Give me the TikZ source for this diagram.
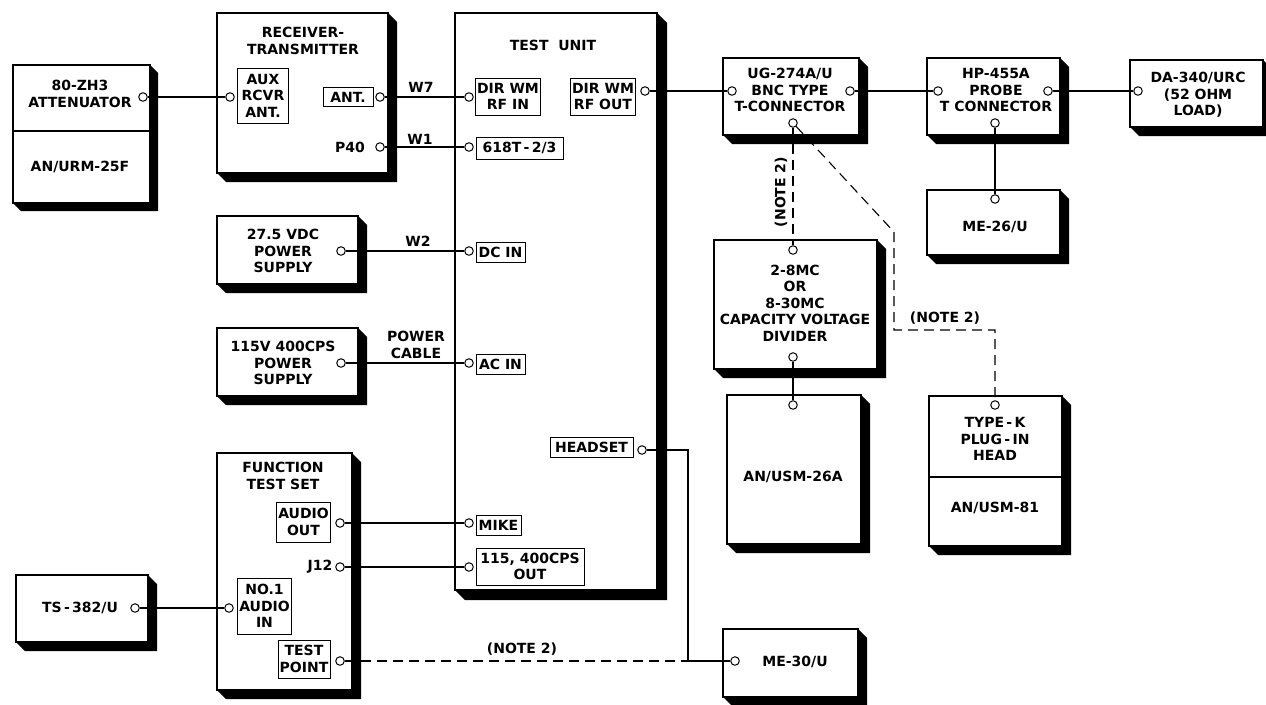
\documentclass[tikz,border=0pt]{standalone}
\usepackage{fontspec}
\setmainfont{DejaVu Sans}
\newcommand\unitbox[6]{%
  \fill (#2,#5) -- ({#2+#6},{#5+#6}) -- ({#4+#6},{#5+#6}) -- ({#4+#6},{#3+#6}) -- (#4,#3) -- cycle;
  \node[ubx, minimum width={(#4-#2)*1pt}, minimum height={(#5-#3)*1pt}] (#1) at ({(#2+#4)/2},{(#3+#5)/2}) {};
}
\begin{document}
\begin{tikzpicture}[x=1pt,y=-1pt,
  every node/.style={font=\fontsize{14}{16.5}\selectfont\bfseries},
  ubx/.style={draw, line width=1.4pt, fill=white, inner sep=0pt, outer sep=0pt},
  port/.style={circle, draw, fill=white, line width=1pt, inner sep=0pt, minimum size=8.5pt},
  plabel/.style={draw, line width=1pt, inner sep=1.5pt, align=center},
  txt/.style={align=center, inner sep=0pt},
  wire/.style={line width=1.1pt},
  note/.style={line width=1.1pt, dash pattern=on 10pt off 6pt},
]
\fill[white] (0,0) rectangle (1266,704);
\useasboundingbox (0,0) rectangle (1266,704);

% attenuator
\unitbox{att}{13}{65}{150}{203}{8}
\draw[line width=1.4pt] (13,131) -- (150,131);
\node[txt] (att-t) at (80,94) {80-ZH3\\ATTENUATOR};
\node[txt] (att-m) at (80,167) {AN/URM-25F};
\node[port] (att-o) at (143,97) {};

% receiver-transmitter
\unitbox{rt}{217}{13}{388}{173}{9}
\node[txt] (rt-t) at (303,41) {RECEIVER-\\TRANSMITTER};
\node[plabel, minimum width=51pt, minimum height=55pt] (aux) at (263,95.5) {AUX\\RCVR\\ANT.};
\node[port] (aux-o) at (230,97) {};
\node[plabel, minimum width=50pt, minimum height=19pt] (ant) at (348,97) {ANT.};
\node[port] (ant-o) at (380,97) {};
\node[txt] (p40) at (350,147) {P40};
\node[port] (p40-o) at (380,147) {};

% test unit
\unitbox{tu}{455}{13}{657}{590}{10}
\node[txt] (tu-t) at (553,45) {TEST\ \ UNIT};
\node[plabel, minimum width=64pt, minimum height=37pt] (rfin) at (508,96.5) {DIR WM\\RF IN};
\node[port] (rfin-o) at (469,97) {};
\node[plabel, minimum width=64pt, minimum height=37pt] (rfout) at (603,96.5) {DIR WM\\RF OUT};
\node[port] (rfout-o) at (645,91) {};
\node[plabel, minimum width=87pt, minimum height=22pt] (t618) at (519.5,148) {618T\,-\,2/3};
\node[port] (t618-o) at (469,147) {};
\node[plabel, minimum width=49pt, minimum height=20pt] (dcin) at (500.5,252) {DC IN};
\node[port] (dc-o) at (469,251) {};
\node[plabel, minimum width=49pt, minimum height=20pt] (acin) at (500.5,364) {AC IN};
\node[port] (ac-o) at (469,363) {};
\node[plabel, minimum width=83pt, minimum height=20pt] (hs) at (591.5,447.5) {HEADSET};
\node[port] (hs-o) at (642,450) {};
\node[plabel, minimum width=45pt, minimum height=20pt] (mike) at (498.5,525) {MIKE};
\node[port] (mike-o) at (469,523) {};
\node[plabel, minimum width=108pt, minimum height=37pt] (cps) at (530,566.5) {115, 400CPS\\OUT};
\node[port] (cps-o) at (469,567) {};

% power supplies
\unitbox{ps1}{217}{216}{358}{284}{9}
\node[txt] (ps1-t) at (283,251) {27.5 VDC\\POWER\\SUPPLY};
\node[port] (ps1-o) at (341,251) {};
\unitbox{ps2}{217}{328}{358}{396}{9}
\node[txt] (ps2-t) at (283,363) {115V 400CPS\\POWER\\SUPPLY};
\node[port] (ps2-o) at (341,363) {};

% function test set
\unitbox{fts}{217}{453}{352}{690}{9}
\node[txt] (fts-t) at (283,476) {FUNCTION\\TEST SET};
\node[plabel, minimum width=53pt, minimum height=40pt] (aout) at (303.5,522) {AUDIO\\OUT};
\node[port] (aout-o) at (340,523) {};
\node[txt] (j12) at (320,567) {J12};
\node[port] (j12-o) at (340,567) {};
\node[plabel, minimum width=53pt, minimum height=56pt] (ain) at (264.5,606) {NO.1\\AUDIO\\IN};
\node[port] (ain-o) at (229,608) {};
\node[plabel, minimum width=52pt, minimum height=38pt] (tp) at (304,659) {TEST\\POINT};
\node[port] (tp-o) at (340,661) {};

% TS-382/U
\unitbox{ts}{16}{575}{148}{642}{9}
\node[txt] (ts-t) at (80,608) {TS\,-\,382/U};
\node[port] (ts-o) at (135,608) {};

% UG-274A/U
\unitbox{ug}{723}{58}{859}{135}{9}
\node[txt] (ug-t) at (790,90) {UG-274A/U\\BNC TYPE\\T-CONNECTOR};
\node[port] (ug-l) at (732,91) {};
\node[port] (ug-r) at (850,91) {};
\node[port] (ug-b) at (793,123) {};

% HP-455A
\unitbox{hp}{927}{58}{1060}{135}{9}
\node[txt] (hp-t) at (996,90) {HP-455A\\PROBE\\T CONNECTOR};
\node[port] (hp-l) at (938,91) {};
\node[port] (hp-r) at (1048,91) {};
\node[port] (hp-b) at (995,123) {};

% DA-340/URC
\unitbox{da}{1130}{60}{1263}{127}{9}
\node[txt] (da-t) at (1198,95) {DA-340/URC\\(52 OHM\\LOAD)};
\node[port] (da-l) at (1138,91) {};

% ME-26/U
\unitbox{me26}{927}{190}{1060}{255}{9}
\node[txt] (me26-t) at (995,227) {ME-26/U};
\node[port] (me26-o) at (995,199) {};

% capacity voltage divider
\unitbox{cvd}{714}{240}{877}{369}{9}
\node[txt] (cvd-t) at (795,303) {2-8MC\\OR\\8-30MC\\CAPACITY VOLTAGE\\DIVIDER};
\node[port] (cvd-i) at (793,250) {};
\node[port] (cvd-o) at (793,357) {};

% AN/USM-26A
\unitbox{usm26}{727}{395}{861}{544}{9}
\node[txt] (usm26-t) at (793,477) {AN/USM-26A};
\node[port] (usm26-o) at (793,405) {};

% Type-K
\unitbox{tk}{929}{396}{1062}{546}{9}
\draw[line width=1.4pt] (929,477) -- (1062,477);
\node[txt] (tk-t) at (995,439) {TYPE\,-\,K\\PLUG\,-\,IN\\HEAD};
\node[txt] (tk-m) at (995,508) {AN/USM-81};
\node[port] (tk-o) at (995,405) {};

% ME-30/U
\unitbox{me30}{723}{629}{858}{697}{9}
\node[txt] (me30-t) at (795,662) {ME-30/U};
\node[port] (me30-o) at (735,661) {};

% wire labels
\node[txt] (w7) at (421,87) {W7};
\node[txt] (w1) at (420,139) {W1};
\node[txt] (w2) at (418,241) {W2};
\node[txt] (pc) at (416,345) {POWER\\CABLE};

% connectors
\draw[wire] (att-o) -- (aux-o);
\draw[wire] (ant-o) -- (rfin-o);
\draw[wire] (p40-o) -- (t618-o);
\draw[wire] (ps1-o) -- (dc-o);
\draw[wire] (ps2-o) -- (ac-o);
\draw[wire] (aout-o) -- (mike-o);
\draw[wire] (j12-o) -- (cps-o);
\draw[wire] (ts-o) -- (ain-o);
\coordinate (jn) at (688,661);
\draw[note] (tp-o) -- (jn);
\draw[wire] (hs-o) -| (jn) -- (me30-o);
\node[txt] (n1) at (522,649) {(NOTE 2)};
\draw[wire] (rfout-o) -- (ug-l);
\draw[wire] (ug-r) -- (hp-l);
\draw[wire] (hp-r) -- (da-l);
\draw[wire] (hp-b) -- (me26-o);
\draw[note] (ug-b) -- (cvd-i);
\node[txt, rotate=90] (n2) at (781,192) {(NOTE 2)};
\coordinate (d1) at (894,232);
\coordinate (d2) at (894,330);
\coordinate (d3) at (995,330);
\draw[note] (ug-b) -- (d1) -- (d2) -- (d3) -- (tk-o);
\node[txt] (n3) at (945,318) {(NOTE 2)};
\draw[wire] (cvd-o) -- (usm26-o);
\end{tikzpicture}
\end{document}
